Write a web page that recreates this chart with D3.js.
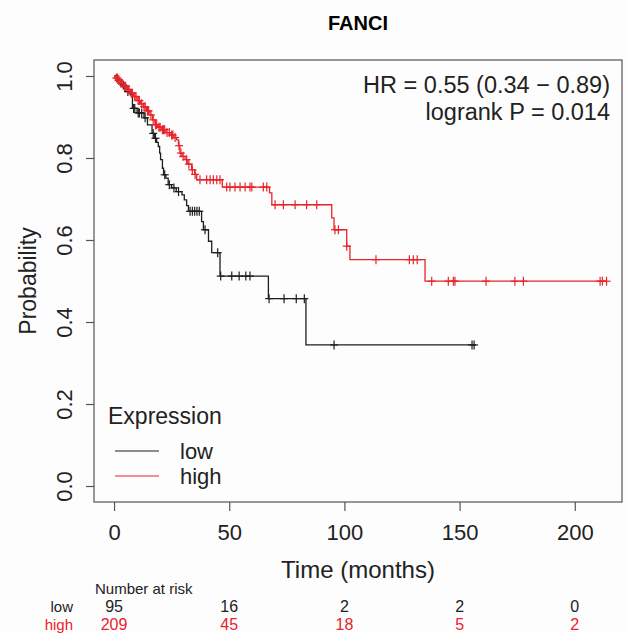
<!DOCTYPE html>
<html>
<head>
<meta charset="utf-8">
<script src="https://cdn.jsdelivr.net/npm/d3@7"></script>
<style>
  body { margin: 0; background: #fdfdfd; }
  text { font-family: "Liberation Sans", Arial, sans-serif; }
</style>
</head>
<body>
<div id="chart"></div>
<script>
// survival steps (time in months, probability after the drop)
const lowTimes = [0, 1.5, 3, 5, 7, 8, 10, 13, 14.5, 16.5, 17.5, 18.5, 19.2, 19.8, 20.2, 21, 21.5, 22.5, 23.5, 25, 27, 29.5, 30.5, 31.5, 32.3, 38, 38.8, 41, 42.4, 46, 67, 83.3];
const lowSurv = [1, 0.99, 0.978, 0.962, 0.954, 0.921, 0.91, 0.898, 0.881, 0.86, 0.848, 0.838, 0.828, 0.812, 0.796, 0.775, 0.759, 0.751, 0.735, 0.727, 0.718, 0.71, 0.698, 0.684, 0.67, 0.645, 0.625, 0.597, 0.569, 0.512, 0.457, 0.344];
const lowEnd = 157;
const lowCensor = [2, 4, 6, 8.5, 9, 10.5, 11, 12, 13.5, 17, 18, 22, 24, 26, 28, 33, 34, 35, 36, 37, 39.5, 45, 46.3, 51.1, 54.3, 57.2, 59, 67.3, 73.8, 79.1, 82.6, 95.5, 155.4, 156.3];

const highTimes = [0, 1, 2, 2.6, 4, 5.5, 7, 8.4, 10, 11.5, 12.7, 14, 15.6, 16.7, 17.8, 19, 20.7, 22.5, 24.3, 26, 27.2, 28, 28.6, 29.5, 30.8, 32, 33.7, 35, 35.9, 47, 67.5, 68.5, 94.5, 95.5, 101, 102.4, 135];
const highSurv = [1, 0.995, 0.99, 0.982, 0.975, 0.967, 0.958, 0.95, 0.94, 0.932, 0.925, 0.915, 0.905, 0.893, 0.881, 0.875, 0.869, 0.862, 0.856, 0.85, 0.844, 0.83, 0.812, 0.804, 0.796, 0.785, 0.771, 0.76, 0.747, 0.729, 0.715, 0.686, 0.654, 0.625, 0.585, 0.552, 0.4995];
const highEnd = 213.8;
const highCensor = [1, 1.5, 2, 3, 3.5, 4.5, 5, 6, 6.5, 7.5, 8, 9, 9.5, 10.5, 11, 12, 13, 13.5, 14.5, 15, 16, 17, 18, 18.5, 19.5, 20, 21, 21.5, 22, 23, 24, 25, 25.5, 26.5, 28.2, 29, 30, 31.5, 32.5, 34, 35.2, 37.3, 40.2, 41.7, 43.1, 44.6, 46, 48.9, 50.3, 52.5, 54.7, 56.9, 59, 59.8, 64.8, 66.3, 69.9, 73.5, 78.6, 83.6, 88, 95.9, 97.4, 101, 113.7, 128.2, 129.9, 131.6, 137.9, 145.1, 147.3, 148, 161.5, 174, 177.7, 211, 212, 213.8];

const xTicks = [0, 50, 100, 150, 200];
const yTicks = [0, 0.2, 0.4, 0.6, 0.8, 1.0];
const riskLow = [95, 16, 2, 2, 0];
const riskHigh = [209, 45, 18, 5, 2];
const statLines = ["HR = 0.55 (0.34 \u2212 0.89)", "logrank P = 0.014"];

const width = 628, height = 633;
const box = { left: 94, right: 622, top: 60, bottom: 502 };
const lowColor = "#1e1e1e";
const highColor = "#e8232a";

const svg = d3.select("#chart")
  .append("svg")
  .attr("width", width)
  .attr("height", height);

svg.append("rect")
  .attr("width", width)
  .attr("height", height)
  .attr("fill", "#fdfdfd");

// scales, R style 4% padding around the data
const xScale = d3.scaleLinear()
  .domain([-8.7, 220.5])
  .range([box.left, box.right]);

const yScale = d3.scaleLinear()
  .domain([-0.039, 1.039])
  .range([box.bottom, box.top]);

// title
svg.append("text")
  .attr("x", (box.left + box.right) / 2)
  .attr("y", 30)
  .attr("text-anchor", "middle")
  .style("font-weight", "bold")
  .style("font-size", "20px")
  .text("FANCI");

// step value at a given time
function survAt(times, surv, t) {
  let s = surv[0];
  for (let i = 0; i < times.length; i++) {
    if (times[i] <= t) s = surv[i];
  }
  return s;
}

const stepLine = d3.line()
  .x(d => xScale(d[0]))
  .y(d => yScale(d[1]))
  .curve(d3.curveStepAfter);

function drawCurve(times, surv, end, censor, color) {
  const pts = times.map((t, i) => [t, surv[i]]);
  pts.push([end, surv[surv.length - 1]]);

  svg.append("path")
    .datum(pts)
    .attr("d", stepLine)
    .attr("fill", "none")
    .attr("stroke", color)
    .attr("stroke-width", 1.3);

  // censor marks as "+"
  const marks = svg.append("g");
  censor.forEach(t => {
    const cx = xScale(t);
    const cy = yScale(survAt(times, surv, t));
    marks.append("line")
      .attr("x1", cx - 4).attr("x2", cx + 4)
      .attr("y1", cy).attr("y2", cy)
      .attr("stroke", color).attr("stroke-width", 1.2);
    marks.append("line")
      .attr("x1", cx).attr("x2", cx)
      .attr("y1", cy - 4.5).attr("y2", cy + 4.5)
      .attr("stroke", color).attr("stroke-width", 1.2);
  });
}

drawCurve(lowTimes, lowSurv, lowEnd, lowCensor, lowColor);
drawCurve(highTimes, highSurv, highEnd, highCensor, highColor);

// plot frame
svg.append("rect")
  .attr("x", box.left)
  .attr("y", box.top)
  .attr("width", box.right - box.left)
  .attr("height", box.bottom - box.top)
  .attr("fill", "none")
  .attr("stroke", "#555")
  .attr("stroke-width", 1.2);

// axes
const xAxis = svg.append("g")
  .attr("transform", `translate(0, ${box.bottom})`)
  .call(d3.axisBottom(xScale).tickValues(xTicks).tickSize(9).tickFormat(d3.format("d")));
xAxis.select(".domain").remove();
xAxis.selectAll("line").attr("stroke", "#555").attr("stroke-width", 1.2);
xAxis.selectAll("text")
  .attr("y", 38)
  .attr("dy", "0")
  .attr("fill", "#222")
  .style("font-size", "22px")
  .style("font-family", "Liberation Sans, Arial, sans-serif");

const yAxis = svg.append("g")
  .attr("transform", `translate(${box.left}, 0)`)
  .call(d3.axisLeft(yScale).tickValues(yTicks).tickSize(8).tickFormat(d3.format(".1f")));
yAxis.select(".domain").remove();
yAxis.selectAll("line").attr("stroke", "#555").attr("stroke-width", 1.2);
yAxis.selectAll("text")
  .attr("transform", "rotate(-90)")
  .attr("x", 0)
  .attr("y", -22)
  .attr("dy", "0")
  .attr("text-anchor", "middle")
  .attr("fill", "#222")
  .style("font-size", "22px")
  .style("font-family", "Liberation Sans, Arial, sans-serif");

// axis labels
svg.append("text")
  .attr("x", (box.left + box.right) / 2)
  .attr("y", 578)
  .attr("text-anchor", "middle")
  .attr("fill", "#222")
  .style("font-size", "24px")
  .text("Time (months)");

svg.append("text")
  .attr("transform", `translate(36, ${(yScale(0) + yScale(1)) / 2}) rotate(-90)`)
  .attr("text-anchor", "middle")
  .attr("fill", "#222")
  .style("font-size", "23px")
  .text("Probability");

// hazard ratio text
statLines.forEach((s, i) => {
  svg.append("text")
    .attr("x", 610)
    .attr("y", 93 + i * 27)
    .attr("text-anchor", "end")
    .attr("fill", "#222")
    .style("font-size", "23.5px")
    .text(s);
});

// legend
const legend = svg.append("g");
legend.append("text")
  .attr("x", 108).attr("y", 424)
  .attr("fill", "#222")
  .style("font-size", "23px")
  .text("Expression");
[["low", lowColor], ["high", highColor]].forEach((d, i) => {
  const ly = 451 + i * 25;
  legend.append("line")
    .attr("x1", 115).attr("x2", 159)
    .attr("y1", ly).attr("y2", ly)
    .attr("stroke", d[1]).attr("stroke-width", 1.2);
  legend.append("text")
    .attr("x", 180).attr("y", ly + 8)
    .attr("fill", "#222")
    .style("font-size", "22px")
    .text(d[0]);
});

// number at risk table
svg.append("text")
  .attr("x", 95).attr("y", 594)
  .attr("fill", "#222")
  .style("font-size", "15px")
  .text("Number at risk");

[["low", riskLow, "#222"], ["high", riskHigh, highColor]].forEach((row, r) => {
  const ry = 612 + r * 18;
  svg.append("text")
    .attr("x", 73).attr("y", ry)
    .attr("text-anchor", "end")
    .attr("fill", row[2])
    .style("font-size", "15px")
    .text(row[0]);
  svg.selectAll(null)
    .data(row[1])
    .join("text")
    .attr("x", (d, i) => xScale(xTicks[i]))
    .attr("y", ry)
    .attr("text-anchor", "middle")
    .attr("fill", row[2])
    .style("font-size", "16px")
    .text(d => d);
});
</script>
</body>
</html>
